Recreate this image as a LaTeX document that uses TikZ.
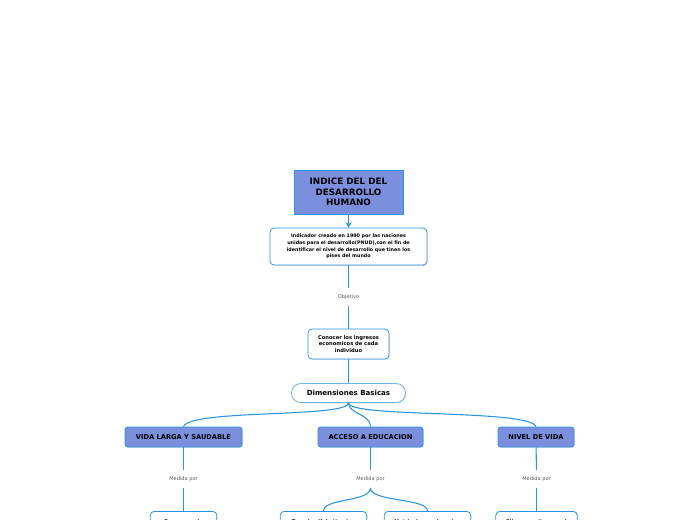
\documentclass[tikz,border=0pt]{standalone}
\usepackage{fontspec}
\setmainfont{DejaVu Sans}
\usetikzlibrary{arrows.meta,shadows}
\usetikzlibrary{positioning}
\definecolor{mmblue}{RGB}{42,148,228}
\definecolor{mmfill}{RGB}{124,143,221}
\definecolor{mmgrey}{RGB}{90,90,90}

\begin{document}
\begin{tikzpicture}[x=0.75pt,y=-0.75pt]
\tikzset{mainbox/.style={rectangle,draw=mmblue,fill=mmfill,line width=0.6pt,inner sep=0pt,align=center,font=\bfseries},
  catbox/.style={rectangle,rounded corners=2pt,draw=mmblue,fill=mmfill,line width=0.6pt,inner sep=0pt,minimum height=15pt,align=center,font=\fontsize{5}{6}\selectfont\bfseries,drop shadow={opacity=0.25,shadow xshift=0.6pt,shadow yshift=-0.6pt}},
  textbox/.style={rectangle,rounded corners=3pt,draw=mmblue,fill=white,line width=0.6pt,inner sep=0pt,align=center,font=\bfseries,drop shadow={opacity=0.25,shadow xshift=0.6pt,shadow yshift=-0.6pt}},
  linklabel/.style={inner sep=0pt,minimum height=13pt,text=mmgrey,font=\fontsize{3.8}{4.5}\selectfont},
  link/.style={draw=mmblue,line width=0.8pt}}
\useasboundingbox (0,0) rectangle (696,520);

% top of the map
\node[mainbox,minimum width=81.75pt,minimum height=33pt,font=\fontsize{6.6}{8}\selectfont\bfseries] (hdi) at (348.5,192) {INDICE DEL DEL\\DESARROLLO\\HUMANO};
\node[textbox,minimum width=117.75pt,minimum height=27.75pt,font=\fontsize{3.6}{5}\selectfont\bfseries] (desc) at (348.5,246.5) {Indicador creado en 1990 por las naciones\\unidas para el desarrollo(PNUD),con el fin de\\identificar el nivel de desarrollo que tinen los\\pises del mundo};
\draw[link,-{Stealth[length=4pt,width=4.5pt]}] (hdi) -- (desc);

\node[linklabel] (obj) at (348.5,297) {Objetivo};
\node[textbox,minimum width=60.75pt,minimum height=22.5pt,font=\fontsize{3.9}{5}\selectfont\bfseries] (goal) at (348.5,344) {Conocer los ingresos\\economicos de cada\\individuo};
\draw[link] (desc) -- (obj);
\draw[link] (obj) -- (goal);

\node[textbox,rounded corners=7pt,draw=mmblue!70,minimum width=85.5pt,minimum height=14.25pt,font=\fontsize{5.3}{6}\selectfont\bfseries] (dims) at (348.5,393) {Dimensiones Basicas};
\draw[link] (goal) -- (dims);

% the three dimensions
\node[catbox,minimum width=87.75pt] (health) at (183.5,437) {VIDA LARGA Y SAUDABLE};
\node[catbox,minimum width=78.75pt] (edu) at (370.5,437) {ACCESO A EDUCACION};
\node[catbox,minimum width=57pt] (life) at (536,437) {NIVEL DE VIDA};
\draw[link] (dims.south) .. controls (348.5,418) and (190,409) .. (health.north);
\draw[link] (dims.south) .. controls (348.5,414) and (370.5,414) .. (edu.north);
\draw[link] (dims.south) .. controls (348.5,418) and (530,409) .. (life.north);

\node[linklabel] (mhealth) at (183.5,479) {Medida por};
\node[linklabel] (medu) at (370.5,479) {Medida por};
\node[linklabel] (mlife) at (536.5,479) {Medida por};
\draw[link] (health) -- (mhealth);
\draw[link] (edu) -- (medu);
\draw[link] (life) -- (mlife);

% indicators (cut by the page)
\node[textbox,anchor=north,minimum width=50pt,minimum height=22pt,font=\fontsize{3.8}{5}\selectfont\bfseries] (expect) at (183.5,511) {Esperanza de\\\strut};
\node[textbox,anchor=north,minimum width=65pt,minimum height=22pt,font=\fontsize{3.8}{5}\selectfont\bfseries] (liter) at (323.5,511) {Tasa de alfabetizacion\\\strut};
\node[textbox,anchor=north,minimum width=65pt,minimum height=22pt,font=\fontsize{3.8}{5}\selectfont\bfseries] (enrol) at (427.5,511) {Matricula en educacion\\\strut};
\node[textbox,anchor=north,minimum width=61pt,minimum height=22pt,font=\fontsize{3.8}{5}\selectfont\bfseries] (gdp) at (536.5,511) {Pib per capita en usd\\\strut};
\draw[link] (mhealth) -- (expect);
\draw[link] (mlife) -- (gdp);
\draw[link] (medu.south) .. controls (370.5,502) and (323.5,498) .. (liter.north);
\draw[link] (medu.south) .. controls (370.5,502) and (427.5,498) .. (enrol.north);
\end{tikzpicture}
\end{document}
